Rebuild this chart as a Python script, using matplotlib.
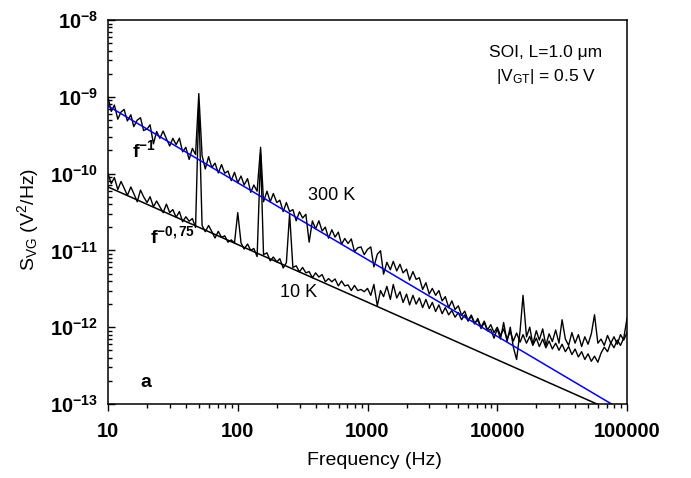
import matplotlib
matplotlib.use("Agg")
import matplotlib.pyplot as plt
import numpy as np
from matplotlib.ticker import FixedLocator, FixedFormatter, LogLocator, NullFormatter

plt.rcParams['font.family'] = ['Liberation Sans', 'DejaVu Sans']
plt.rcParams['mathtext.fontset'] = 'custom'
plt.rcParams['mathtext.rm'] = 'Liberation Sans'
plt.rcParams['mathtext.it'] = 'Liberation Sans:italic'
plt.rcParams['mathtext.bf'] = 'Liberation Sans:bold'

# ---- data (S in units of 1e-12 V^2/Hz) ----
freq = [10, 10.6, 11.2, 11.9, 12.6, 13.3, 14.1, 15.0, 15.8, 16.8, 17.8, 18.8, 20.0, 21.1, 22.4, 23.7, 25.1, 26.6, 28.2, 29.9,
        31.6, 33.5, 35.5, 37.6, 39.8, 42.2, 44.7, 47.3, 50.1, 53.1, 56.2, 59.6, 63.1, 66.8, 70.8, 75.0, 79.4, 84.1, 89.1, 94.4,
        100, 106, 112, 119, 126, 133, 141, 150, 158, 168, 178, 188, 200, 211, 224, 237, 251, 266, 282, 299,
        316, 335, 355, 376, 398, 422, 447, 473, 501, 531, 562, 596, 631, 668, 708, 750, 794, 841, 891, 944,
        1000, 1060, 1120, 1190, 1260, 1330, 1410, 1500, 1580, 1680, 1780, 1880, 2000, 2110, 2240, 2370, 2510, 2660, 2820, 2990,
        3160, 3350, 3550, 3760, 3980, 4220, 4470, 4730, 5010, 5310, 5620, 5960, 6310, 6680, 7080, 7500, 7940, 8410, 8910, 9440,
        10000, 10600, 11200, 11900, 12600, 13300, 14100, 15000, 15800, 16800, 17800, 18800, 20000, 21100, 22400, 23700, 25100, 26600, 28200, 29900,
        31600, 33500, 35500, 37600, 39800, 42200, 44700, 47300, 50100, 53100, 56200, 59600, 63100, 66800, 70800, 75000, 79400, 84100, 89100, 94400,
        100000]

s_300K = [988, 645, 781, 511, 633, 685, 485, 583, 409, 497, 534, 364, 380, 432, 244, 353, 288, 358, 284, 229,
          288, 238, 289, 192, 220, 153, 213, 177, 1100, 172, 115, 166, 120, 137, 102, 131, 101, 108, 81, 104,
          76, 93, 71, 86, 57, 71, 59, 220, 43, 59, 43, 55, 42, 45, 32, 42, 32, 34, 24.3, 31.8,
          26.4, 29.5, 12.8, 24.2, 19.1, 24.3, 17.9, 20.1, 14.4, 18.6, 14.9, 17.3, 12.0, 14.3, 12.3, 14.1, 9.6, 10.8, 11.1, 8.8,
          10.3, 11.1, 6.1, 8.9, 9.9, 4.9, 7.0, 5.6, 7.2, 5.4, 6.6, 5.1, 5.7, 4.1, 5.3, 4.2, 4.4, 3.1, 3.8, 2.7,
          3.2, 2.6, 3.0, 2.2, 2.5, 1.8, 2.2, 1.7, 1.9, 1.43, 1.62, 1.22, 1.44, 1.14, 1.23, 0.96, 1.15, 0.9, 0.94, 0.72,
          0.95, 0.7, 1.15, 0.65, 1.0, 0.55, 0.38, 0.9, 2.6, 0.75, 1.0, 0.6, 0.9, 0.68, 0.95, 0.58, 0.82, 0.65, 0.92, 0.62,
          1.25, 0.7, 0.58, 0.85, 0.62, 0.8, 0.56, 0.75, 0.6, 0.82, 1.45, 0.62, 0.7, 0.58, 0.78, 0.62, 0.75, 0.6, 0.8, 0.68,
          0.85]

s_10K = [100, 74, 89, 62, 79, 65, 52, 67, 55, 43, 61, 50, 42, 50, 37, 44, 37, 31, 40, 31,
         34, 27, 32, 23.6, 27.4, 24, 26, 19.9, 800, 21.1, 17.5, 21.1, 17.6, 14.5, 17.7, 14.8, 15.5, 12.8, 13.7, 12.5,
         31, 12.5, 10.4, 12.1, 10.0, 10.6, 8.3, 180, 8.8, 9.3, 7.3, 8.2, 7.1, 7.8, 5.9, 6.9, 30, 6.0, 6.3, 5.25,
         6.0, 5.1, 5.3, 4.4, 5.1, 4.5, 4.85, 3.9, 4.3, 3.9, 4.25, 3.45, 4.0, 3.45, 3.55, 3.0, 3.5, 3.0, 3.1, 2.9,
         3.2, 2.6, 3.6, 1.9, 3.0, 2.5, 3.4, 2.3, 3.6, 2.4, 2.9, 2.1, 2.7, 1.95, 2.6, 2.0, 2.4, 1.8, 2.3, 1.75,
         2.1, 1.6, 1.95, 1.5, 1.8, 1.45, 1.65, 1.35, 1.55, 1.25, 1.45, 1.2, 1.4, 1.1, 1.3, 1.0, 1.2, 0.92, 1.08, 0.85,
         1.0, 0.78, 0.95, 0.7, 0.88, 0.66, 0.84, 0.64, 0.8, 0.62, 0.76, 0.58, 0.72, 0.56, 0.7, 0.54, 0.66, 0.52, 0.62, 0.5,
         0.6, 0.48, 0.56, 0.44, 0.52, 0.41, 0.48, 0.38, 0.45, 0.36, 0.42, 0.35, 0.46, 0.55, 0.48, 0.63, 0.54, 0.68, 0.58, 0.72,
         1.3]

fit_f = [10, 100000]
fit_300K = [760, 0.076]   # f^-1
fit_10K = [67, 0.067]     # f^-0.75

unit = 1e-12
x_ticks = [10, 100, 1000, 10000, 100000]
x_labels = ['10', '100', '1000', '10000', '100000']
y_ticks = [1e-13, 1e-12, 1e-11, 1e-10, 1e-9, 1e-8]
y_labels = [r'$\mathbf{10^{-13}}$', r'$\mathbf{10^{-12}}$', r'$\mathbf{10^{-11}}$',
            r'$\mathbf{10^{-10}}$', r'$\mathbf{10^{-9}}$', r'$\mathbf{10^{-8}}$']

fig = plt.figure(figsize=(6.91, 4.78), dpi=100)
ax = fig.add_axes([108/691, 1-404/478, 519/691, 384/478])

ax.plot(freq, np.array(s_300K)*unit, color='black', lw=1.0)
ax.plot(freq, np.array(s_10K)*unit, color='black', lw=1.0)
ax.plot(fit_f, np.array(fit_300K)*unit, color='#0000ff', lw=1.1)
ax.plot(fit_f, np.array(fit_10K)*unit, color='black', lw=1.1)

ax.set_xscale('log')
ax.set_yscale('log')
ax.set_xlim(10, 100000)
ax.set_ylim(1e-13, 1e-8)

ax.xaxis.set_major_locator(FixedLocator(x_ticks))
ax.xaxis.set_major_formatter(FixedFormatter(x_labels))
ax.xaxis.set_minor_locator(LogLocator(base=10, subs=np.arange(2, 10)))
ax.xaxis.set_minor_formatter(NullFormatter())
ax.yaxis.set_major_locator(FixedLocator(y_ticks))
ax.yaxis.set_major_formatter(FixedFormatter(y_labels))
ax.yaxis.set_minor_locator(LogLocator(base=10, subs=np.arange(2, 10)))
ax.yaxis.set_minor_formatter(NullFormatter())

for s in ax.spines.values():
    s.set_linewidth(1.1)

ax.tick_params(axis='x', which='major', direction='out', length=5, width=1.0, top=False,
               labelsize=14.5, pad=8)
ax.tick_params(axis='x', which='minor', direction='out', length=3, width=1.0, top=False)
ax.tick_params(axis='y', which='major', direction='in', length=5, width=1.0, right=False,
               labelsize=14.5, pad=7)
ax.tick_params(axis='y', which='minor', direction='in', length=3, width=1.0, right=False)
for lab in ax.get_xticklabels():
    lab.set_fontweight('bold')

ax.set_xlabel('Frequency (Hz)', fontsize=14)
ax.xaxis.set_label_coords(0.514, -0.125)
ax.set_ylabel(r'S$_{\rm VG}$ (V$^2$/Hz)', fontsize=14)
ax.yaxis.set_label_coords(-0.129, 0.48)

ax.text(0.046, 0.643, r'f$^{\mathbf{-1}}$', transform=ax.transAxes, fontsize=14, fontweight='bold')
ax.text(0.081, 0.419, r'f$^{\mathbf{-0,75}}$', transform=ax.transAxes, fontsize=14, fontweight='bold')
ax.text(0.385, 0.531, '300 K', transform=ax.transAxes, fontsize=13)
ax.text(0.331, 0.279, '10 K', transform=ax.transAxes, fontsize=13)
ax.text(0.062, 0.044, 'a', transform=ax.transAxes, fontsize=14, fontweight='bold')
ax.text(0.844, 0.904, 'SOI, L=1.0 \u03bcm', transform=ax.transAxes, fontsize=12.5, ha='center')
ax.text(0.844, 0.84, r'|V$_{\rm GT}$| = 0.5 V', transform=ax.transAxes, fontsize=12.5, ha='center')

fig.savefig('out.png', dpi=100)
